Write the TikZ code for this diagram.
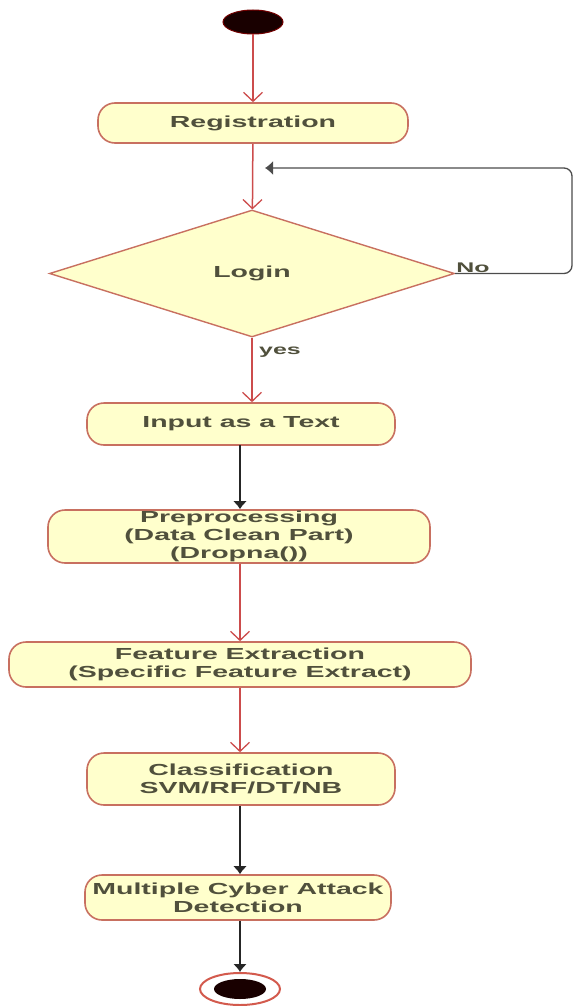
\documentclass[tikz,border=0pt]{standalone}
\usepackage{fontspec}
\setmainfont[FakeStretch=1.78]{Liberation Sans}
\usetikzlibrary{arrows.meta,shapes.geometric}
\definecolor{boxfill}{RGB}{255,255,204}
\definecolor{boxline}{RGB}{200,112,96}
\definecolor{flowred}{RGB}{204,76,76}
\definecolor{txt}{RGB}{80,80,60}

\begin{document}
\begin{tikzpicture}[
			x=1pt, y=-1pt,
			action/.style={rectangle,rounded corners=17pt,draw=boxline,fill=boxfill,
			line width=1.6pt,inner sep=0pt,align=center,text=txt,
			font=\bfseries\fontsize{16}{18}\selectfont},
			decision/.style={diamond,draw=boxline,fill=boxfill,line width=1.4pt,
			inner sep=0pt,text=txt,font=\bfseries\fontsize{16}{18}\selectfont},
			flow/.style={draw=flowred,line width=1.5pt,
			-{Straight Barb[length=9pt,width=19pt,line width=1.3pt]}},
			ctrl/.style={draw=black!85,line width=2pt,
			-{Latex[length=8pt,width=14pt]}},
			lbl/.style={text=txt,inner sep=1pt,font=\bfseries\fontsize{14}{16}\selectfont}
			]
			\useasboundingbox (0,0) rectangle (575,1006);
			\node[ellipse,draw=red!45!black,fill=black!90!red,line width=1pt,
				minimum width=60pt,minimum height=24pt] (start) at (253,22) {};
			\node[action,minimum width=310pt,minimum height=40pt] (reg) at (253,123)
				{Registration};
			\node[decision,minimum width=405pt,minimum height=127pt] (login) at (252,273.5)
				{Login};
			\node[action,minimum width=308pt,minimum height=42pt] (input) at (241,424)
				{Input as a Text};
			\node[action,minimum width=382pt,minimum height=53pt] (prep) at (239,536.5)
				{Preprocessing\\(Data Clean Part)\\(Dropna())};
			\node[action,minimum width=462pt,minimum height=45pt] (feat) at (240,664.5)
				{Feature Extraction\\(Specific Feature Extract)};
			\node[action,minimum width=308pt,minimum height=52pt] (class) at (241,779)
				{Classification\\SVM/RF/DT/NB};
			\node[action,minimum width=306pt,minimum height=45pt] (multi) at (238,897.5)
				{Multiple Cyber Attack\\Detection};
			\node[ellipse,draw=boxline!80!red,fill=white,line width=2pt,
				minimum width=80pt,minimum height=32pt] (stop) at (240,989) {};
			\node[ellipse,fill=black!90!red,minimum width=52pt,minimum height=20pt]
				(stopin) at (stop.center) {};

			% flow
			\draw[flow] (start) -- (reg);
			\draw[flow] (reg) -- (login);
			\draw[flow] (login) -- (login |- input.north);
			\node[lbl,anchor=west] (yes) at (258,352) {yes};
			\node[lbl,anchor=south west] (no) at (login.east) {No};
			\coordinate (back) at (265,168);
			\draw[ctrl,line width=1.3pt,draw=black!70,rounded corners=8pt] (login.east)
				-- (572,273.5) |- (back);
			\draw[ctrl] (240,445) -- (prep.north -| 240,0);
			\draw[flow] (prep.south -| 240,0) -- (feat);
			\draw[flow] (feat) -- (class.north -| 240,0);
			\draw[ctrl] (class.south -| 240,0) -- (multi.north -| 240,0);
			\draw[ctrl] (multi.south -| 240,0) -- (stop);
		\end{tikzpicture}
\end{document}
